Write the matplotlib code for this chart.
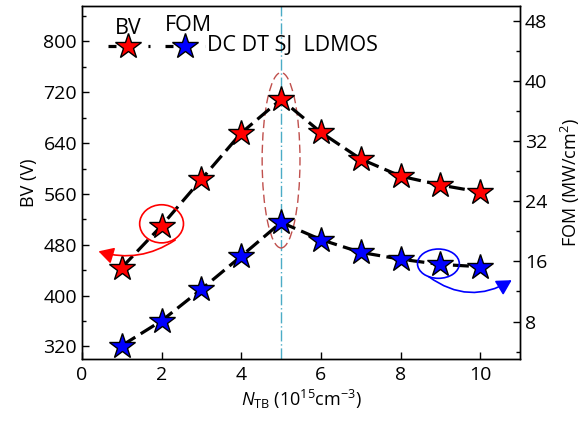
import matplotlib
matplotlib.use('Agg')
import matplotlib.pyplot as plt
from matplotlib.patches import Ellipse, FancyArrowPatch
from matplotlib.lines import Line2D
from matplotlib.ticker import MultipleLocator

plt.rcParams['font.family'] = ['Open Sans', 'DejaVu Sans']
plt.rcParams['mathtext.fontset'] = 'custom'
plt.rcParams['mathtext.rm'] = 'Open Sans'
plt.rcParams['mathtext.it'] = 'Open Sans:italic'
plt.rcParams['font.size'] = 14

# Doping of the trench body (1e15 cm^-3)
n_tb = [1, 2, 3, 4, 5, 6, 7, 8, 9, 10]
# Breakdown voltage (V)
bv = [444, 510, 583, 656, 709, 657, 615, 588, 574, 563]
# Figure of merit (MW/cm^2)
fom = [4.8, 8.1, 12.3, 16.7, 21.2, 18.9, 17.2, 16.3, 15.6, 15.3]

DASH = (5, 2)
STAR = dict(marker='*', markersize=19, markeredgecolor='black', markeredgewidth=1.0)

fig = plt.figure(figsize=(5.85, 4.22), dpi=100)
ax = fig.add_axes([0.140, 0.149, 0.749, 0.837])
ax2 = ax.twinx()

ax.plot(n_tb, bv, color='black', lw=2.3, dashes=DASH, markerfacecolor='red', zorder=3, **STAR)
ax2.plot(n_tb, fom, color='black', lw=2.3, dashes=DASH, markerfacecolor='blue', zorder=3, **STAR)

ax.set_xlim(0, 11)
ax.set_ylim(300, 856)
ax2.set_ylim(3, 50)
ax.set_xticks([0, 2, 4, 6, 8, 10])
ax.yaxis.set_major_locator(MultipleLocator(80))
ax.yaxis.set_minor_locator(MultipleLocator(40))
ax2.set_yticks([8, 16, 24, 32, 40, 48])
ax2.yaxis.set_minor_locator(MultipleLocator(4))

for a in (ax, ax2):
    a.tick_params(which='major', direction='in', length=5, width=1, labelsize=14)
    a.tick_params(which='minor', direction='in', length=3, width=1)
    for s in a.spines.values():
        s.set_linewidth(1.0)
ax.tick_params(axis='x', pad=5)

ax.set_xlabel(r'$N_{\mathrm{TB}}$ (10$^{15}$cm$^{-3}$)', fontsize=13, labelpad=3)
ax.set_ylabel('BV (V)', fontsize=13, labelpad=4)
ax2.set_ylabel('FOM (MW/cm$^2$)', fontsize=13, labelpad=8)

# vertical marker at the optimum doping
ax.axvline(5, color='#4bacc6', lw=1.0, dashes=(8, 2, 1, 2), zorder=1)

# dashed ellipse around both optimum points
ax.add_patch(Ellipse((5, 613), 0.95, 276, fill=False, edgecolor='#c0504d',
                     lw=1.0, linestyle=(0, (6, 3)), zorder=2))

# red circle + arrow pointing to the BV axis
ax.add_patch(Ellipse((2, 513), 1.1, 60, fill=False, edgecolor='red', lw=1.2, zorder=4))
ax.add_patch(FancyArrowPatch((2.4, 490), (0.35, 471), connectionstyle='arc3,rad=-0.25',
                             arrowstyle='-|>,head_length=9,head_width=5',
                             color='red', lw=1.2, zorder=4))

# blue circle + arrow pointing to the FOM axis
ax2.add_patch(Ellipse((8.95, 15.7), 1.05, 3.9, fill=False, edgecolor='blue', lw=1.2, zorder=4))
ax2.add_patch(FancyArrowPatch((8.65, 14.2), (10.85, 13.7), connectionstyle='arc3,rad=0.35',
                              arrowstyle='-|>,head_length=9,head_width=5',
                              color='blue', lw=1.2, zorder=4))

# legend built by hand: series names stacked above the line samples
lg_y = 0.887
leg_dash = (2.5, 10)
ax.add_line(Line2D([0.060, 0.156], [lg_y, lg_y], transform=ax.transAxes, color='black',
                   lw=2.3, dashes=leg_dash, clip_on=False))
ax.add_line(Line2D([0.1055], [lg_y], transform=ax.transAxes, markerfacecolor='red',
                   clip_on=False, **STAR))
ax.add_line(Line2D([0.190, 0.280], [lg_y, lg_y], transform=ax.transAxes, color='black',
                   lw=2.3, dashes=leg_dash, clip_on=False))
ax.add_line(Line2D([0.235], [lg_y], transform=ax.transAxes, markerfacecolor='blue',
                   clip_on=False, **STAR))
ax.text(0.105, 0.936, 'BV', transform=ax.transAxes, ha='center', va='center', fontsize=15.5)
ax.text(0.243, 0.945, 'FOM', transform=ax.transAxes, ha='center', va='center', fontsize=15.5)
ax.text(0.285, lg_y, 'DC DT SJ  LDMOS', transform=ax.transAxes, ha='left', va='center',
        fontsize=15.5)

fig.savefig('out.png', dpi=100)
